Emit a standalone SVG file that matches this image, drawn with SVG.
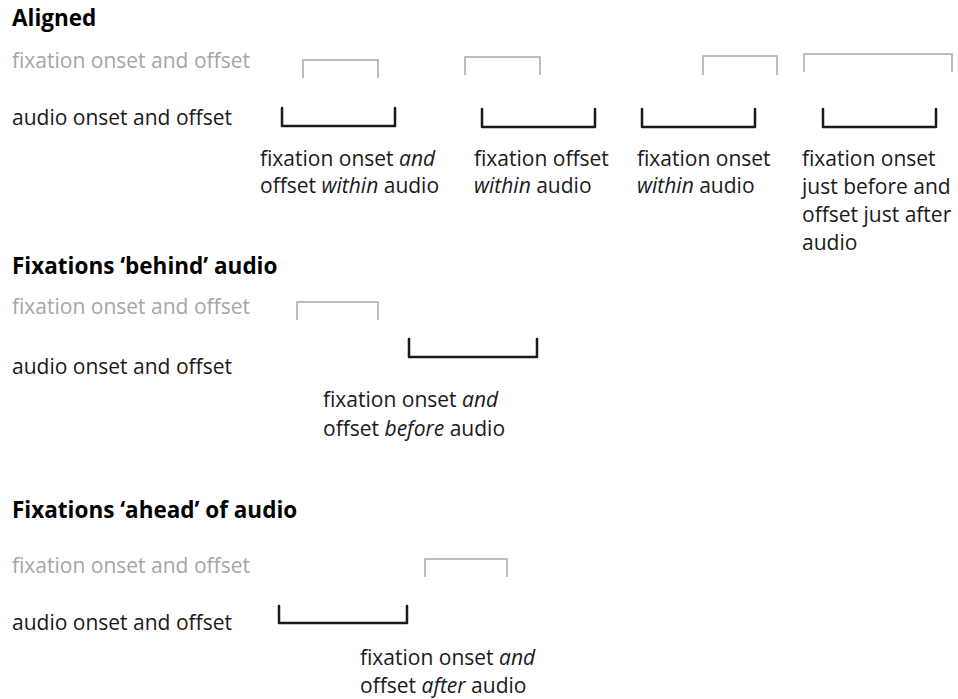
<svg xmlns="http://www.w3.org/2000/svg" width="958" height="699" viewBox="0 0 958 699">
<style>
  text { font-family: "Open Sans", "Liberation Sans", sans-serif; font-size: 21px; fill: #1a1a1a; }
  .h { font-weight: bold; font-size: 22.5px; fill: #000; }
  .g { fill: #a6a6a6; }
  .i { font-style: italic; }
  .gb { fill: none; stroke: #bdbdbd; stroke-width: 2; stroke-linejoin: round; }
  .bb { fill: none; stroke: #1a1a1a; stroke-width: 2.5; stroke-linejoin: round; stroke-linecap: round; }
</style>
<rect width="958" height="699" fill="#fff"/>

<g id="aligned">
  <text class="h" x="12" y="26">Aligned</text>
  <text class="g" x="12" y="68">fixation onset and offset</text>
  <text x="12" y="125">audio onset and offset</text>
  <g id="aligned-1">
    <path class="gb" d="M303,78 V60 H378 V78"/>
    <path class="bb" d="M282,108 V126 H395 V108"/>
    <text x="260" y="166">fixation onset <tspan class="i">and</tspan></text>
    <text x="260" y="193">offset <tspan class="i">within</tspan> audio</text>
  </g>
  <g id="aligned-2">
    <path class="gb" d="M465,75 V57 H540 V75"/>
    <path class="bb" d="M482,109 V127 H595 V109"/>
    <text x="474" y="166">fixation offset</text>
    <text x="474" y="193"><tspan class="i">within</tspan> audio</text>
  </g>
  <g id="aligned-3">
    <path class="gb" d="M703,75 V56 H777 V75"/>
    <path class="bb" d="M642,109 V127 H755 V109"/>
    <text x="637" y="166">fixation onset</text>
    <text x="637" y="193"><tspan class="i">within</tspan> audio</text>
  </g>
  <g id="aligned-4">
    <path class="gb" d="M804,72 V54 H952 V72"/>
    <path class="bb" d="M823,109 V127 H936 V109"/>
    <text x="802" y="166">fixation onset</text>
    <text x="802" y="194">just before and</text>
    <text x="802" y="222">offset just after</text>
    <text x="802" y="250">audio</text>
  </g>
</g>

<g id="behind">
  <text class="h" x="12" y="274">Fixations ‘behind’ audio</text>
  <text class="g" x="12" y="314">fixation onset and offset</text>
  <text x="12" y="374">audio onset and offset</text>
  <g id="behind-1">
    <path class="gb" d="M297,320 V302 H378 V320"/>
    <path class="bb" d="M409,339 V357 H537 V339"/>
    <text x="323" y="407">fixation onset <tspan class="i">and</tspan></text>
    <text x="323" y="436">offset <tspan class="i">before</tspan> audio</text>
  </g>
</g>

<g id="ahead">
  <text class="h" x="12" y="518">Fixations ‘ahead’ of audio</text>
  <text class="g" x="12" y="573">fixation onset and offset</text>
  <text x="12" y="630">audio onset and offset</text>
  <g id="ahead-1">
    <path class="gb" d="M425,577 V559 H507 V577"/>
    <path class="bb" d="M279,606 V623 H407 V606"/>
    <text x="360" y="665">fixation onset <tspan class="i">and</tspan></text>
    <text x="360" y="693">offset <tspan class="i">after</tspan> audio</text>
  </g>
</g>

<g id="connectors"></g>
</svg>
